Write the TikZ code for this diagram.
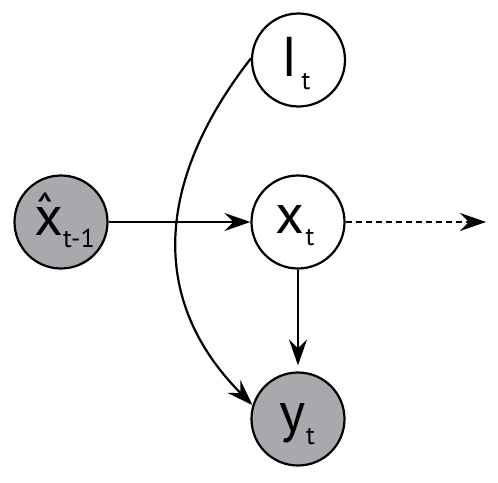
\documentclass[tikz,border=0pt]{standalone}
\usepackage{fontspec}
\setmainfont{PT Sans}
\usetikzlibrary{arrows.meta}
\definecolor{nodegray}{HTML}{A7A9AC}
\tikzset{
  var/.style={circle, draw=black, line width=2.2pt, minimum size=93pt, inner sep=0pt},
  obs/.style={var, fill=nodegray},
  lat/.style={var, fill=white},
  big/.style={inner sep=0pt, anchor=base, font=\fontsize{56}{56}\selectfont},
  sub/.style={inner sep=0pt, anchor=base, font=\fontsize{26}{26}\selectfont},
  hatmark/.style={inner sep=0pt, anchor=north, font=\fontsize{50}{50}\selectfont},
  conn/.style={line width=2.2pt, -{Stealth[length=26pt, width=18pt, inset=9pt]}},
}
\begin{document}
\begin{tikzpicture}[x=1pt, y=-1pt]
\useasboundingbox (0,0) rectangle (498,482);
% circles
\node[lat] (It) at (298.5,60) {};
\node[lat] (xt) at (298,222) {};
\node[obs] (yt) at (298,419) {};
\node[obs] (xh) at (61,222) {};
% labels
\node[big] (ItL) at (290,76) {I};
\node[sub] (ItS) at (306,89) {t};
\node[big] (xtL) at (289.7,233.3) {x};
\node[sub] (xtS) at (310,245) {t};
\node[big] (ytL) at (293,431) {y};
\node[sub] (ytS) at (310.5,444) {t};
\node[big] (xhL) at (49,235) {x};
\node[hatmark] (xhH) at (45,193) {ˆ};
\node[sub] (xhS) at (79,247.7) {t-1};
% connectors
\coordinate (future) at (486,222);
\draw[conn] (xh) -- (xt);
\draw[conn, dash pattern=on 6pt off 4pt] (xt) -- (future);
\draw[conn, shorten >=6pt] (xt) -- (yt);
\draw[conn] (It.178) .. controls (160,175) and (144,296) .. (yt.163);
\end{tikzpicture}
\end{document}
